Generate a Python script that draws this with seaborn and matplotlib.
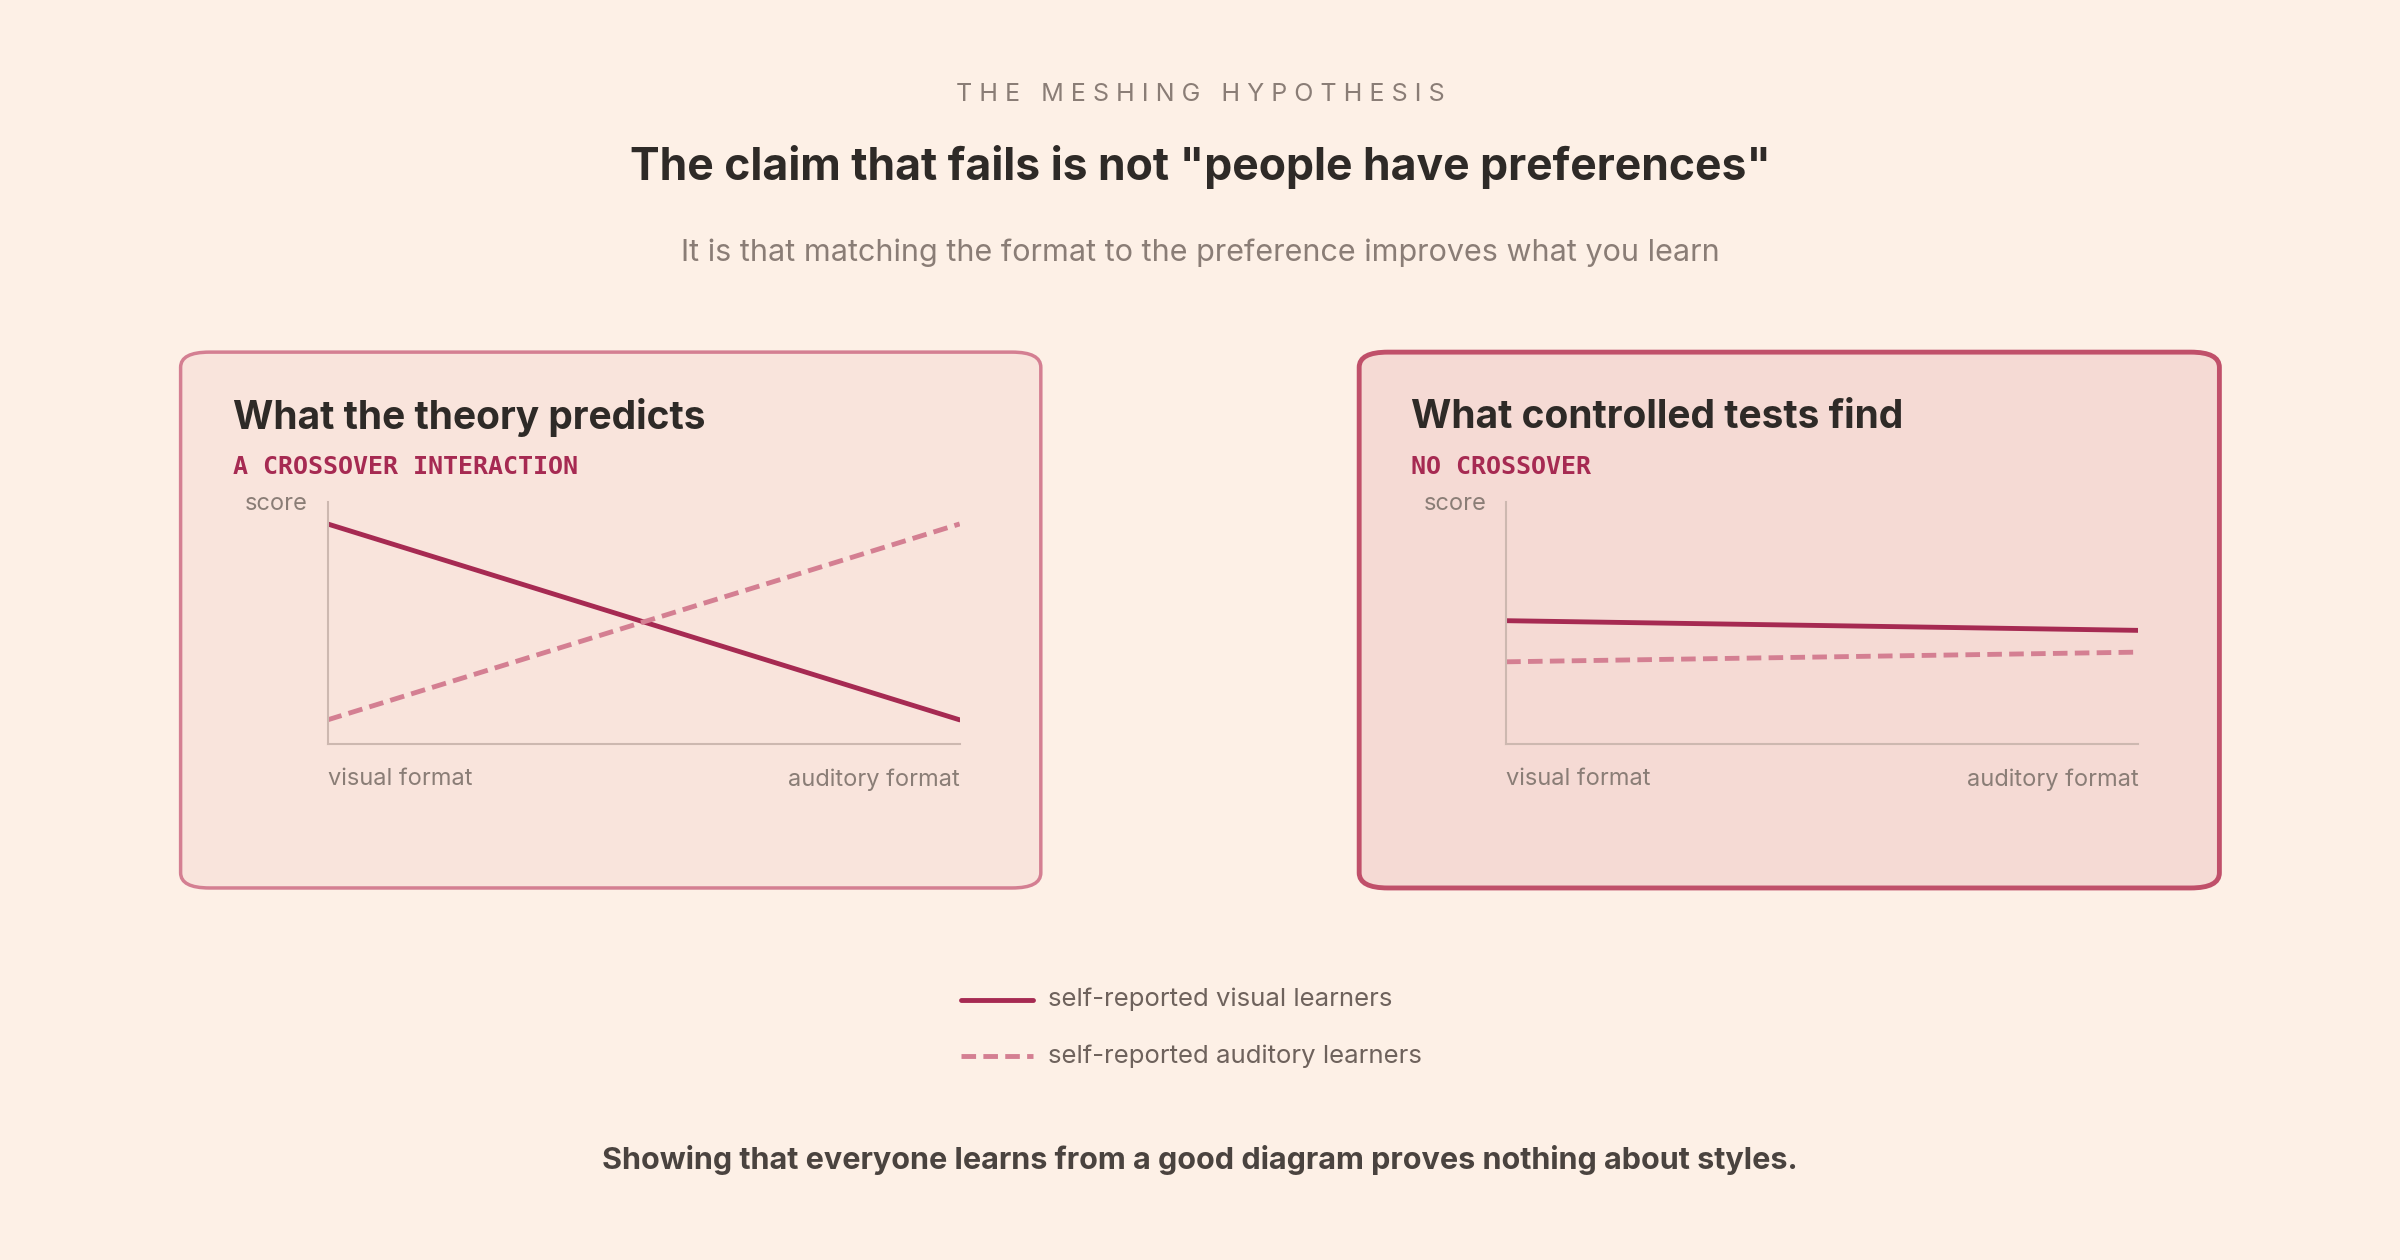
import matplotlib.pyplot as plt
import seaborn as sns
import pandas as pd
from matplotlib.patches import FancyBboxPatch

# data (score 0-100)
formats = ["visual format", "auditory format"]
theory_visual = [91, 10]
theory_auditory = [10, 91]
tests_visual = [51, 47]
tests_auditory = [34, 38]

BG = "#fdf0e6"
DARK = "#a62a52"
LIGHT = "#d47f92"
GREY = "#8a7d76"

sns.set_theme(style="white")
plt.rcParams["font.family"] = ["Inter", "DejaVu Sans"]

W, H = 1568, 823
fig = plt.figure(figsize=(24, 12.6), dpi=100, facecolor=BG)


def fx(x):
    return x / W


def fy(y):
    return 1 - y / H


fig.text(0.5, fy(62), "T H E   M E S H I N G   H Y P O T H E S I S", ha="center", va="center",
         fontsize=18, color=GREY)
fig.text(0.5, fy(109), 'The claim that fails is not "people have preferences"', ha="center", va="center",
         fontsize=32, fontweight="bold", color="#2e2a27")
fig.text(0.5, fy(165), "It is that matching the format to the preference improves what you learn",
         ha="center", va="center", fontsize=22, color=GREY)

panels = [
    (118, "What the theory predicts", "A CROSSOVER INTERACTION", theory_visual, theory_auditory,
     "#f9e4dc", LIGHT, 2.5),
    (888, "What controlled tests find", "NO CROSSOVER", tests_visual, tests_auditory,
     "#f5dad4", "#c0506a", 3.5),
]

for x0, title, sub, vis, aud, fill, edge, lw in panels:
    box = FancyBboxPatch((fx(x0), fy(580)), fx(562), fy(230) - fy(580),
                         boxstyle="round,pad=0,rounding_size=0.012", transform=fig.transFigure,
                         facecolor=fill, edgecolor=edge, linewidth=lw, zorder=0)
    fig.patches.append(box)
    fig.text(fx(x0 + 34), fy(273), title, va="center", fontsize=28, fontweight="bold", color="#2e2a27")
    fig.text(fx(x0 + 34), fy(305), sub, va="center", fontsize=18, fontweight="bold",
             color=DARK, family="DejaVu Sans Mono")
    fig.text(fx(x0 + 83), fy(329), "score", ha="right", va="center", fontsize=17, color=GREY)

    ax = fig.add_axes([fx(x0 + 96), fy(486), fx(413), fy(328) - fy(486)], zorder=5)
    ax.set_facecolor("none")
    df = pd.DataFrame({"x": [0, 1, 0, 1], "score": vis + aud,
                       "group": ["visual"] * 2 + ["auditory"] * 2})
    sns.lineplot(data=df[df.group == "visual"], x="x", y="score", ax=ax, color=DARK, lw=3.5)
    sns.lineplot(data=df[df.group == "auditory"], x="x", y="score", ax=ax, color=LIGHT, lw=3.5,
                 linestyle=(0, (3, 1.5)))
    ax.set_xlim(0, 1)
    ax.set_ylim(0, 100)
    ax.set_xticks([])
    ax.set_yticks([])
    ax.set_xlabel("")
    ax.set_ylabel("")
    for s in ["top", "right"]:
        ax.spines[s].set_visible(False)
    for s in ["left", "bottom"]:
        ax.spines[s].set_color("#cdb8b0")
        ax.spines[s].set_linewidth(1.5)
    fig.text(fx(x0 + 96), fy(509), formats[0], va="center", fontsize=17, color=GREY)
    fig.text(fx(x0 + 509), fy(509), formats[1], ha="right", va="center", fontsize=17, color=GREY)

# legend
fig.lines.append(plt.Line2D([fx(628), fx(675)], [fy(653)] * 2, transform=fig.transFigure,
                            color=DARK, lw=3.5))
fig.lines.append(plt.Line2D([fx(628), fx(675)], [fy(690)] * 2, transform=fig.transFigure,
                            color=LIGHT, lw=3.5, linestyle=(0, (3, 1.5))))
fig.text(fx(685), fy(653), "self-reported visual learners", va="center", fontsize=18.5, color="#6e625c")
fig.text(fx(685), fy(690), "self-reported auditory learners", va="center", fontsize=18.5, color="#6e625c")

fig.text(0.5, fy(758), "Showing that everyone learns from a good diagram proves nothing about styles.",
         ha="center", va="center", fontsize=22, fontweight="bold", color="#4a433f")

fig.savefig("out.png", dpi=100, facecolor=BG)
